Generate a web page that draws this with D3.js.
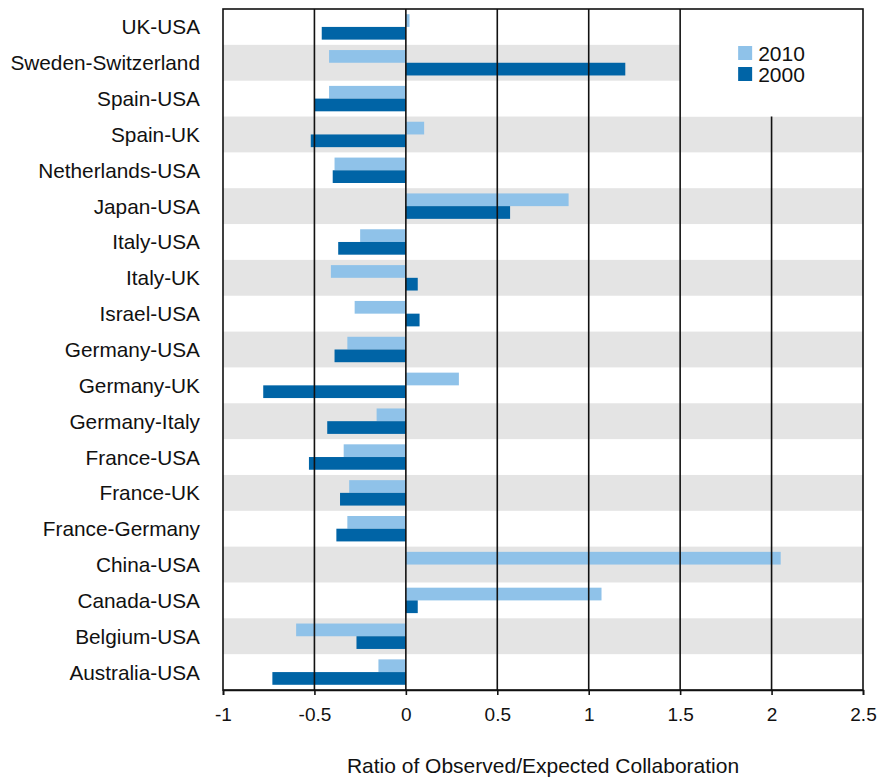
<!DOCTYPE html>
<html>
<head>
<meta charset="utf-8">
<script src="https://cdn.jsdelivr.net/npm/d3@7"></script>
<style>
  html, body { margin: 0; padding: 0; background: #fff; }
  svg { display: block; font-family: "Liberation Sans", Arial, sans-serif; }
</style>
</head>
<body>
<div id="chart"></div>
<script>
// ---- data ----
const pairs = [
  "UK-USA", "Sweden-Switzerland", "Spain-USA", "Spain-UK", "Netherlands-USA",
  "Japan-USA", "Italy-USA", "Italy-UK", "Israel-USA", "Germany-USA",
  "Germany-UK", "Germany-Italy", "France-USA", "France-UK", "France-Germany",
  "China-USA", "Canada-USA", "Belgium-USA", "Australia-USA"
];
const years = ["2010", "2000"];
const v2010 = [0.02, -0.42, -0.42, 0.10, -0.39, 0.89, -0.25, -0.41, -0.28, -0.32,
               0.29, -0.16, -0.34, -0.31, -0.32, 2.05, 1.07, -0.60, -0.15];
const v2000 = [-0.46, 1.20, -0.50, -0.52, -0.40, 0.57, -0.37, 0.065, 0.075, -0.39,
               -0.78, -0.43, -0.53, -0.36, -0.38, 0, 0.065, -0.27, -0.73];
const xTicks = [-1, -0.5, 0, 0.5, 1, 1.5, 2, 2.5];
const gridVals = [-0.5, 0, 0.5, 1, 1.5, 2];
const axisTitle = "Ratio of Observed/Expected Collaboration";

const colors = { "2010": "#8fc2e9", "2000": "#0064a6" };

// ---- layout ----
const W = 878, H = 777;
const margin = { top: 9, right: 15, bottom: 87, left: 223 };
const innerW = W - margin.left - margin.right;
const innerH = H - margin.top - margin.bottom;

const svg = d3.select("#chart").append("svg").attr("width", W).attr("height", H);
const g = svg.append("g").attr("transform", `translate(${margin.left},${margin.top})`);

const x = d3.scaleLinear().domain([-1, 2.5]).range([0, innerW]);
const y = d3.scaleBand().domain(pairs).range([0, innerH]);
const ySub = d3.scaleBand().domain(years).range([0, y.bandwidth()]).paddingOuter(0.41);

const rows = pairs.map((p, i) => ({ pair: p, i, "2010": v2010[i], "2000": v2000[i] }));

// alternating grey bands
g.append("g").selectAll("rect").data(rows.filter((d) => d.i % 2 === 1)).join("rect")
  .attr("x", 0).attr("width", innerW)
  .attr("y", (d) => y(d.pair)).attr("height", y.bandwidth())
  .attr("fill", "#e4e4e4");

// bars
const grp = g.append("g").selectAll("g").data(rows).join("g")
  .attr("transform", (d) => `translate(0,${y(d.pair)})`);
grp.selectAll("rect").data((d) => years.map((k) => ({ k, v: d[k] }))).join("rect")
  .attr("x", (d) => x(Math.min(0, d.v)))
  .attr("width", (d) => Math.abs(x(d.v) - x(0)))
  .attr("y", (d) => ySub(d.k)).attr("height", ySub.bandwidth())
  .attr("fill", (d) => colors[d.k]);

// legend box (white patch in the top-right)
const legBottom = y(pairs[3]);
g.append("rect")
  .attr("x", x(1.5)).attr("width", x(2.5) - x(1.5))
  .attr("y", 0).attr("height", legBottom)
  .attr("fill", "#fff");

// vertical grid lines on top of the bars
g.append("g").selectAll("line").data(gridVals).join("line")
  .attr("x1", (d) => x(d)).attr("x2", (d) => x(d))
  .attr("y1", (d) => (d > 1.5 ? legBottom : 0)).attr("y2", innerH)
  .attr("stroke", "#111").attr("stroke-width", 1.6);

// frame
g.append("rect").attr("x", 0).attr("y", 0).attr("width", innerW).attr("height", innerH)
  .attr("fill", "none").attr("stroke", "#111").attr("stroke-width", 1.6);

// bottom axis
const ax = g.append("g").attr("transform", `translate(0,${innerH})`)
  .call(d3.axisBottom(x).tickValues(xTicks).tickFormat((d) => String(d))
    .tickSize(5).tickSizeOuter(5).tickPadding(13));
ax.select(".domain").attr("stroke", "#111").attr("stroke-width", 1.6);
ax.selectAll(".tick line").attr("stroke", "#111").attr("stroke-width", 1.6);
ax.selectAll(".tick text").attr("font-size", 19).attr("fill", "#111")
  .attr("font-family", "'Liberation Sans', Arial, sans-serif");

// category labels
g.append("g").selectAll("text").data(pairs).join("text")
  .attr("x", -23).attr("y", (d) => y(d) + y.bandwidth() / 2)
  .attr("dy", "0.36em").attr("text-anchor", "end")
  .attr("font-size", 20.8).attr("fill", "#111").text((d) => d);

// axis title
svg.append("text")
  .attr("x", margin.left + innerW / 2).attr("y", 773)
  .attr("text-anchor", "middle").attr("font-size", 21).attr("fill", "#111")
  .text(axisTitle);

// legend
const leg = g.append("g").attr("transform", `translate(${x(1.5) + 58},${37})`);
years.forEach((k, i) => {
  const row = leg.append("g").attr("transform", `translate(0,${i * 21})`);
  row.append("rect").attr("width", 14).attr("height", 14).attr("fill", colors[k]);
  row.append("text").attr("x", 20).attr("y", 7).attr("dy", "0.36em")
    .attr("font-size", 21).attr("fill", "#111").text(k);
});
</script>
</body>
</html>
